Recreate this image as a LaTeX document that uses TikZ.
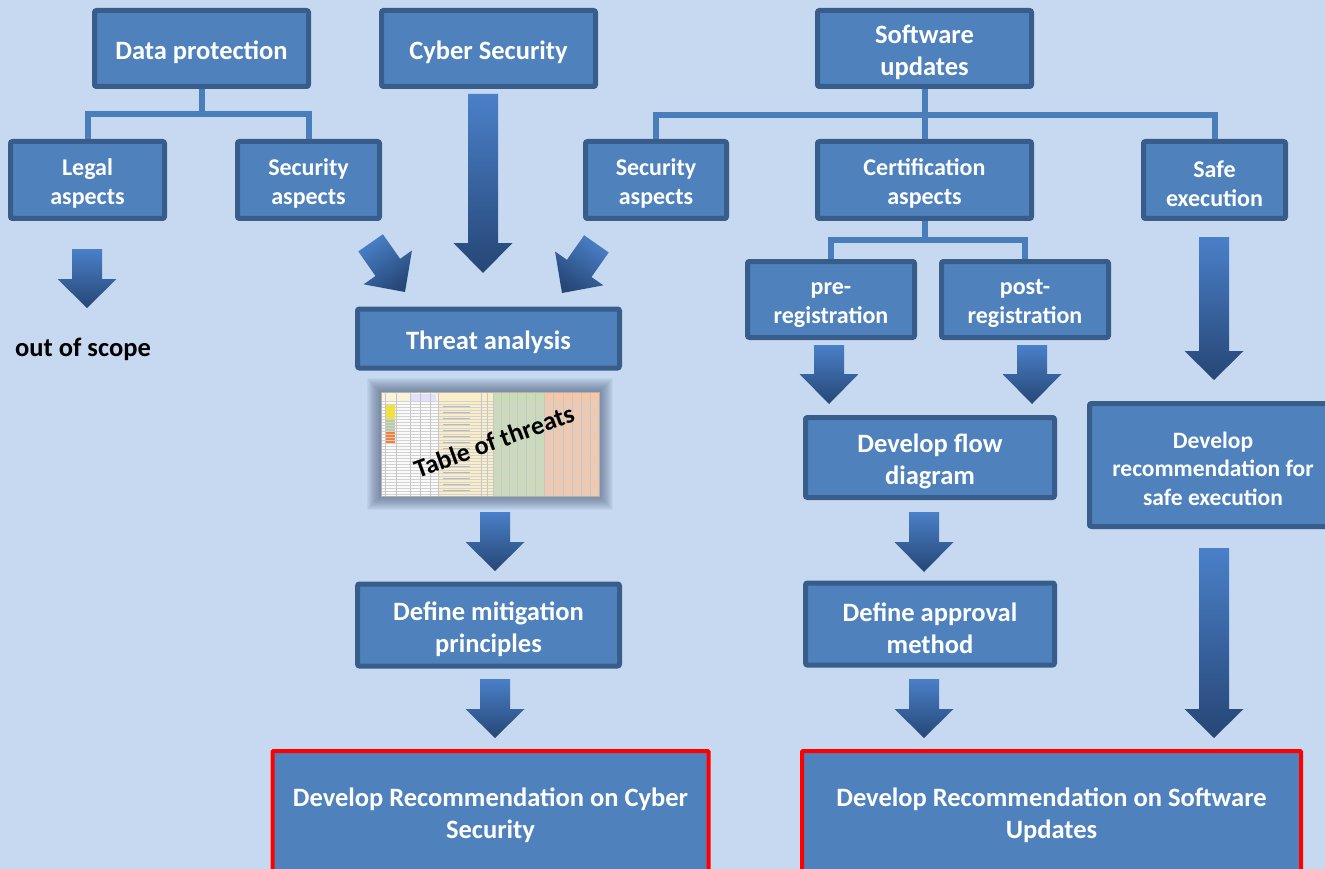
\documentclass[tikz,border=0pt]{standalone}
\usepackage{fontspec}
\setmainfont{Carlito}

\definecolor{bgblue}{RGB}{198,217,240}
\definecolor{boxfill}{RGB}{79,129,189}
\definecolor{boxborder}{RGB}{56,93,138}
\definecolor{linecol}{RGB}{74,126,187}
\definecolor{arrtop}{RGB}{74,128,200}
\definecolor{arrbot}{RGB}{38,70,118}
\definecolor{glow}{RGB}{70,85,115}
\definecolor{tblbeige}{RGB}{250,238,200}
\definecolor{tblgreen}{RGB}{200,221,178}
\definecolor{tblorange}{RGB}{248,198,165}

\newcommand{\topstrut}{\rule{0pt}{1em}}

\begin{document}
\begin{tikzpicture}[x=1pt,y=-1pt]
	\tikzstyle{Box} = [rectangle, draw=boxborder, line width=5pt, fill=boxfill, rounded corners=2pt, text=white, align=center, inner sep=2pt, font=\bfseries\fontsize{26.5}{32}\selectfont, execute at begin node={\topstrut}]
	\tikzstyle{SmallBox} = [Box, font=\bfseries\fontsize{24}{29}\selectfont]
	\tikzstyle{RecBox} = [Box, draw=red, line width=4pt, rounded corners=1pt]
	\tikzstyle{line} = [line width=6pt, draw=linecol]
	\tikzstyle{ArrowShade} = [top color=arrtop, bottom color=arrbot]

	\clip (0,0) rectangle (1325,869);
	\fill[bgblue] (0,0) rectangle (1325,869);

	% top row
	\node (dataprot) [Box, minimum width=214pt, minimum height=76pt] at (201.5,48.5) {Data protection};
	\node (cyber) [Box, minimum width=214pt, minimum height=76pt] at (488.5,48.5) {Cyber Security};
	\node (swupd) [Box, minimum width=214pt, minimum height=76pt] at (924.5,48.5) {\topstrut Software\\updates};

	% second row
	\node (legal) [SmallBox, minimum width=154pt, minimum height=77pt] at (87.5,180) {\topstrut Legal\\aspects};
	\node (secleft) [SmallBox, minimum width=142pt, minimum height=77pt] at (308.5,180) {\topstrut Security\\aspects};
	\node (secright) [SmallBox, minimum width=141pt, minimum height=77pt] at (656,180) {\topstrut Security\\aspects};
	\node (cert) [SmallBox, minimum width=214pt, minimum height=77pt] at (924.5,180) {\topstrut Certification\\aspects};
	\node (safe) [SmallBox, minimum width=142pt, minimum height=77pt] at (1214.5,180) {\topstrut Safe\\execution};
	\node (pre) [SmallBox, minimum width=167pt, minimum height=76pt] at (831,299.5) {\topstrut pre-\\registration};
	\node (post) [SmallBox, minimum width=167pt, minimum height=76pt] at (1025,299.5) {\topstrut post-\\registration};

	% tree lines
	\coordinate (dpj) at (201.5,114);
	\coordinate (swj) at (924.5,115);
	\coordinate (cj) at (924.5,240);
	\draw[line] (dataprot.south) -- (dpj);
	\draw[line] (legal.north) |- (dpj) -| (secleft.north);
	\draw[line] (swupd.south) -- (cert.north);
	\draw[line] (secright.north) |- (swj) -| (safe.north);
	\draw[line] (cert.south) -- (cj);
	\draw[line] (pre.north) |- (cj) -| (post.north);

	% lower boxes
	\node (threat) [Box, minimum width=262pt, minimum height=59pt] at (488.5,338.5) {Threat analysis};
	\node (mitig) [Box, minimum width=262pt, minimum height=82pt] at (488.5,625) {\topstrut Define mitigation\\principles};
	\node (flow) [Box, minimum width=249pt, minimum height=80pt] at (930,457.5) {\topstrut Develop flow\\diagram};
	\node (approval) [Box, minimum width=249pt, minimum height=82pt] at (930,624) {\topstrut Define approval\\method};
	\node (saferec) [Box, minimum width=247pt, minimum height=123pt, font=\bfseries\fontsize{23.5}{28.5}\selectfont] at (1213,465) {\topstrut Develop\\recommendation for\\safe execution};
	\node (reccyber) [RecBox, minimum width=436pt, minimum height=120pt] at (490.5,811) {\topstrut Develop Recommendation on Cyber\\Security};
	\node (recsw) [RecBox, minimum width=499pt, minimum height=120pt] at (1051.5,811) {\topstrut Develop Recommendation on Software\\Updates};

	\node (oos) [font=\bfseries\fontsize{26.5}{32}\selectfont] at (83,349) {out of scope};

	% table of threats
	\foreach \g in {1,...,14}
		\fill[glow, opacity=0.055] (381-\g,392-\g) rectangle (599+\g,496+\g);
	\node (tbl) [rectangle, inner sep=0pt, minimum width=218pt, minimum height=104pt, fill=gray!4] at (490,444) {};
	\fill[tblbeige] (438,392) rectangle (493,496);
	\fill[tblgreen] (493,392) rectangle (544,496);
	\fill[tblorange] (544,392) rectangle (599,496);
	\fill[tblbeige!70] (381,392) rectangle (438,401);
	\fill[blue!12] (410,394) rectangle (436,401);
	\fill[yellow!90!orange] (385,404) rectangle (395,420);
	\fill[tblgreen!80!gray] (385,420) rectangle (395,431);
	\fill[orange!70!red!80] (385,432) rectangle (395,443);
	\foreach \r in {401,404,...,494}
		\draw[gray!35, line width=0.4pt] (381,\r) -- (599,\r);
	\foreach \c in {385,396,410,420,430,438,481,487,493,501,509,517,526,535,544,553,563,572,581,590}
		\draw[gray!45, line width=0.4pt] (\c,392) -- (\c,496);
	\foreach \r in {406,412,...,490}
		\draw[gray!55, line width=1pt] (443,\r) -- (470,\r);
	\draw[gray!60, line width=0.5pt] (tbl.north west) rectangle (tbl.south east);
	\node (tot) [rotate=20, font=\bfseries\fontsize{26}{32}\selectfont] at (494,441) {Table of threats};

	% block arrows
	\foreach \ax/\at/\ah/\ap in {87/249/279/308, 483/94/243/273, 495/512/542/571, 495/679/709/738, 829/345/374/404, 1032/345/374/404, 924/512/542/572, 924/679/709/738, 1214/237/351/380, 1214/548/709/738}
		\shade[ArrowShade] (\ax-15,\at) -- (\ax+15,\at) -- (\ax+15,\ah) -- (\ax+29.5,\ah) -- (\ax,\ap) -- (\ax-29.5,\ah) -- (\ax-15,\ah) -- cycle;
	\shade[ArrowShade, shading angle=35, rotate around={35:(405,292)}] (390,232) -- (420,232) -- (420,262) -- (434.5,262) -- (405,292) -- (375.5,262) -- (390,262) -- cycle;
	\shade[ArrowShade, shading angle=-35, rotate around={-35:(562,293)}] (547,233) -- (577,233) -- (577,263) -- (591.5,263) -- (562,293) -- (532.5,263) -- (547,263) -- cycle;
\end{tikzpicture}
\end{document}
